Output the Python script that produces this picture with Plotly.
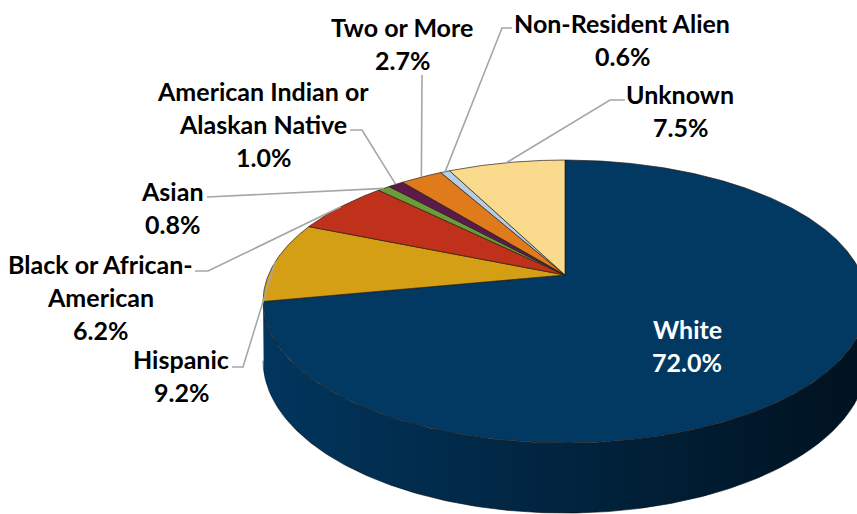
import numpy as np
import plotly.graph_objects as go

# ---------------- data ----------------
categories = ["White", "Hispanic", "Black or African-American", "Asian",
              "American Indian or Alaskan Native", "Two or More",
              "Non-Resident Alien", "Unknown"]
shares = [72.0, 9.2, 6.2, 0.8, 1.0, 2.7, 0.6, 7.5]
name_lines = [["White"], ["Hispanic"], ["Black or African-", "American"], ["Asian"],
              ["American Indian or", "Alaskan Native"], ["Two or More"],
              ["Non-Resident Alien"], ["Unknown"]]

# ---------------- style ----------------
colors = ["#023963", "#D49F14", "#C0311C", "#6E9B3A", "#5C1A4C", "#E07B1C",
          "#B7CDE3", "#FADB8E"]
label_pos = [(687, 329), (181, 359), (100, 264), (172, 191), (263, 91),
             (402, 27), (622, 23), (680, 94)]
label_color = ["white", "black", "black", "black", "black", "black", "black", "black"]
leader_start = [None, [(232, 367), (243, 367)], [(195, 271), (208, 271)],
                [(207, 197)], [(350, 130), (362, 130)], [(422, 75)],
                [(512, 28), (502, 28)], [(625, 100), (610, 100)]]
LINE_GAP = 33
FONT = "Lato"
FSIZE = 25

W, Hpx = 857, 514
CX, CY = 565.0, 275.0       # projected pie centre
A, B = 296.6, 136.5         # projected radii
K = -0.1873                 # perspective factor
DEPTH = 57.0                # thickness


def proj(theta, r=1.0, depth=0.0):
    u = r * np.sin(theta)
    v = -r * np.cos(theta)
    w = 1 + K * v
    return CX + A * u / w, CY + B * v / w + depth * DEPTH / w


def rgb(h):
    h = h.lstrip("#")
    return tuple(int(h[i:i + 2], 16) for i in (0, 2, 4))


def shade(c, f):
    return "rgb(%d,%d,%d)" % tuple(min(255, int(ch * f)) for ch in rgb(c))


fig = go.Figure()

total = sum(shares)
bounds = np.concatenate([[0], np.cumsum(shares)]) / total * 2 * np.pi

# visible side range (silhouette points)
t_right = np.arccos(K)
t_left = 2 * np.pi - t_right
x_left_edge, _ = proj(t_left)
x_right_edge, _ = proj(t_right)

# ---- side walls ----
for i, c in enumerate(colors):
    a0, a1 = max(bounds[i], t_right), min(bounds[i + 1], t_left)
    if a1 <= a0:
        continue
    tt = np.linspace(a0, a1, 300)
    xt, yt = proj(tt)
    xb, yb = proj(tt[::-1], depth=1.0)
    fig.add_trace(go.Scatter(
        x=np.r_[xt, xb, xt[0]], y=np.r_[yt, yb, yt[0]],
        mode="lines", fill="toself",
        fillgradient=dict(type="horizontal", start=x_left_edge, stop=x_right_edge,
                          colorscale=[[0, shade(c, 0.95)], [0.23, shade(c, 0.8)],
                                      [0.5, shade(c, 0.64)], [0.8, shade(c, 0.45)],
                                      [1, shade(c, 0.33)]]),
        line=dict(color="rgba(0,0,0,0)", width=0),
        hoverinfo="skip", showlegend=False))
    xb2, yb2 = proj(tt, depth=1.0)
    fig.add_trace(go.Scatter(x=xb2, y=yb2, mode="lines",
                             line=dict(color="rgba(0,10,20,0.6)", width=1),
                             hoverinfo="skip", showlegend=False))

# ---- top faces ----
for i, c in enumerate(colors):
    a0, a1 = bounds[i], bounds[i + 1]
    n = max(4, int((a1 - a0) * 180))
    tt = np.linspace(a0, a1, n)
    xa, ya = proj(tt)
    xs = np.r_[CX, xa, CX]
    ys = np.r_[CY, ya, CY]
    fig.add_trace(go.Scatter(x=xs, y=ys, mode="lines", fill="toself",
                             fillcolor=c, line=dict(color="rgba(35,25,15,0.85)", width=0.8),
                             name=categories[i], hoverinfo="name", showlegend=False))

# ---- leader lines ----
for i in range(len(shares)):
    if leader_start[i] is None:
        continue
    mid = (bounds[i] + bounds[i + 1]) / 2
    ex, ey = proj(mid)
    pts = leader_start[i] + [(ex, ey)]
    fig.add_trace(go.Scatter(x=[p[0] for p in pts], y=[p[1] for p in pts],
                             mode="lines", line=dict(color="#A6A6A6", width=1.6),
                             hoverinfo="skip", showlegend=False))

# ---- labels ----
annotations = []
for i in range(len(shares)):
    lines = name_lines[i] + ["%.1f%%" % shares[i]]
    x0, y0 = label_pos[i]
    for j, t in enumerate(lines):
        annotations.append(dict(x=x0, y=y0 + j * LINE_GAP, xref="x", yref="y",
                                text="<b>%s</b>" % t, showarrow=False,
                                xanchor="center", yanchor="middle",
                                font=dict(family=FONT, size=FSIZE, color=label_color[i])))

fig.update_layout(
    width=W, height=Hpx,
    margin=dict(l=0, r=0, t=0, b=0),
    paper_bgcolor="white", plot_bgcolor="white",
    xaxis=dict(range=[0, W], visible=False, fixedrange=True),
    yaxis=dict(range=[Hpx, 0], visible=False, fixedrange=True),
    annotations=annotations,
    showlegend=False,
)

fig.write_html("out.html",
               config={"displayModeBar": False},
               post_script="document.body.style.margin='0';"
                           "document.body.style.overflow='hidden';")
